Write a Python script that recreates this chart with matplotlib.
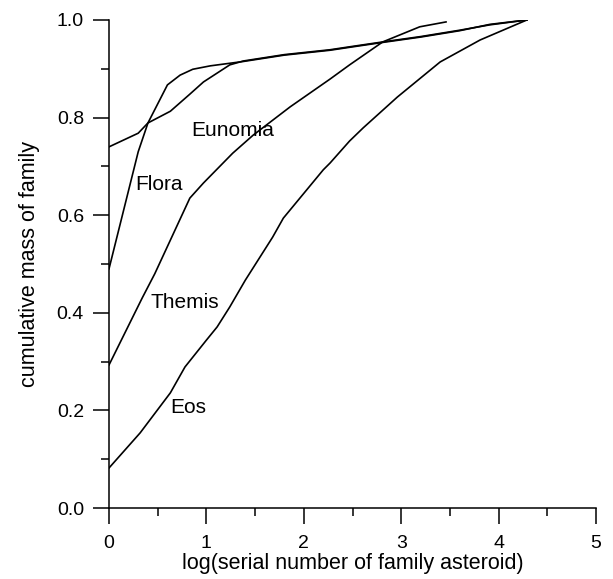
import matplotlib
matplotlib.use('Agg')
import matplotlib.pyplot as plt
from matplotlib.ticker import MultipleLocator

plt.rcParams['font.family'] = ['Liberation Sans', 'DejaVu Sans']

# cumulative mass curves
eunomia_x = [0, 0.30, 0.40, 0.63, 0.83, 0.97, 1.24, 1.38, 1.80, 2.27, 2.47, 2.81, 3.20, 3.60, 3.91, 4.29]
eunomia_y = [0.74, 0.768, 0.789, 0.813, 0.848, 0.873, 0.908, 0.916, 0.929, 0.939, 0.945, 0.955, 0.966, 0.979, 0.990, 1.0]

flora_x = [0, 0.30, 0.40, 0.60, 0.73, 0.86, 1.04, 1.38, 1.80, 2.27, 2.47, 2.81, 3.20, 3.60, 3.91, 4.29]
flora_y = [0.49, 0.73, 0.789, 0.867, 0.887, 0.899, 0.906, 0.915, 0.928, 0.938, 0.944, 0.954, 0.965, 0.978, 0.991, 1.0]

themis_x = [0, 0.34, 0.47, 0.83, 0.97, 1.27, 1.48, 1.86, 2.27, 2.47, 2.81, 3.19, 3.46]
themis_y = [0.293, 0.43, 0.48, 0.635, 0.666, 0.727, 0.764, 0.822, 0.879, 0.908, 0.955, 0.986, 0.996]

eos_x = [0, 0.32, 0.63, 0.78, 1.0, 1.11, 1.24, 1.40, 1.68, 1.79, 2.20, 2.27, 2.47, 2.61, 2.96, 3.40, 3.81, 4.29]
eos_y = [0.082, 0.154, 0.236, 0.289, 0.344, 0.371, 0.412, 0.467, 0.555, 0.594, 0.693, 0.707, 0.752, 0.779, 0.842, 0.914, 0.959, 1.0]

families = ['Eunomia', 'Flora', 'Themis', 'Eos']
label_x = [1.27, 0.51, 0.78, 0.81]
label_y = [0.773, 0.662, 0.422, 0.205]


def main():
    fig = plt.figure(figsize=(6.13, 5.79), dpi=100)
    ax = fig.add_axes([0.1778, 0.1226, 0.7945, 0.8429])

    curves = [(eunomia_x, eunomia_y), (flora_x, flora_y), (themis_x, themis_y), (eos_x, eos_y)]
    for x, y in curves:
        ax.plot(x, y, color='black', linewidth=1.2)

    for name, tx, ty in zip(families, label_x, label_y):
        ax.text(tx, ty, name, fontsize=15, ha='center', va='center')

    ax.set_xlim(0, 5)
    ax.set_ylim(0, 1)
    ax.xaxis.set_major_locator(MultipleLocator(1))
    ax.xaxis.set_minor_locator(MultipleLocator(0.5))
    ax.yaxis.set_major_locator(MultipleLocator(0.2))
    ax.yaxis.set_minor_locator(MultipleLocator(0.1))
    ax.xaxis.set_major_formatter(plt.FuncFormatter(lambda v, p: '%d' % v))
    ax.yaxis.set_major_formatter(plt.FuncFormatter(lambda v, p: '%.1f' % v))

    for side in ['top', 'right']:
        ax.spines[side].set_visible(False)
    for side in ['left', 'bottom']:
        ax.spines[side].set_linewidth(1.1)

    ax.tick_params(which='major', direction='out', length=11.5, width=1.1, labelsize=14)
    ax.tick_params(which='minor', direction='out', length=5.8, width=1.1)
    ax.tick_params(axis='x', which='major', pad=8)
    ax.tick_params(axis='y', which='major', pad=6.5)

    ax.set_xlabel('log(serial number of family asteroid)', fontsize=15.5, labelpad=1)
    ax.set_ylabel('cumulative mass of family', fontsize=15.5, labelpad=12)

    fig.savefig('out.png', dpi=100)


if __name__ == "__main__":
    main()
